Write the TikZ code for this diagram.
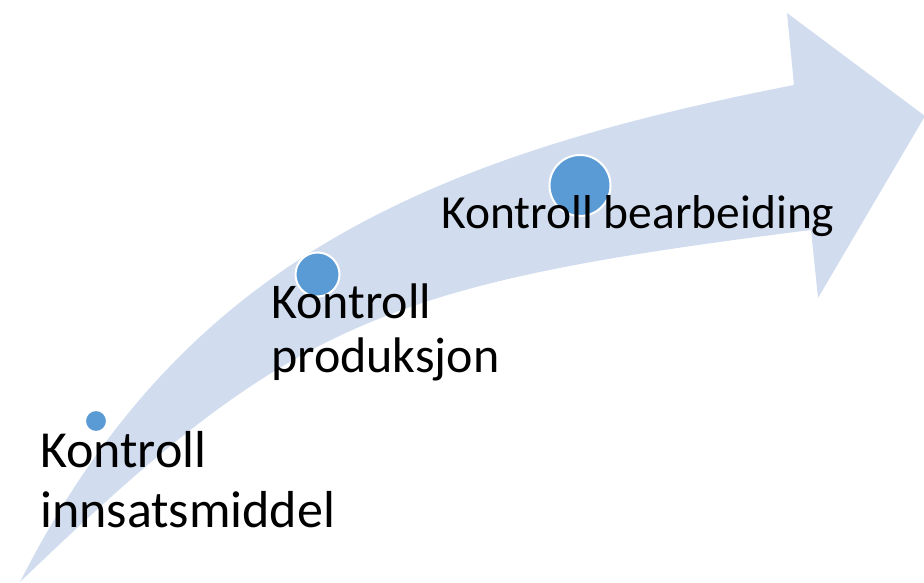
\documentclass[tikz,border=0pt]{standalone}
\usepackage{fontspec}
\setmainfont{Carlito}
\definecolor{arrowfill}{RGB}{209,221,239}
\definecolor{dotfill}{RGB}{91,155,213}
\tikzset{
  dot/.style={circle, fill=dotfill, draw=white, line width=2pt, inner sep=0pt},
  lbl/.style={anchor=base west, align=left, inner sep=0pt, text=black}
}
\begin{document}
\begin{tikzpicture}[x=1pt,y=-1pt]
\useasboundingbox (0,0) rectangle (924,583);
\fill[arrowfill] (20,582) .. controls (180,266) and (420,158) .. (794,85)
  -- (787,13) -- (925,116) -- (818,298) -- (811,230)
  .. controls (380,284) and (290,322) .. (20,582) -- cycle;
\node[dot, minimum size=22pt] (d1) at (96,421) {};
\node[dot, minimum size=44pt] (d2) at (317.5,274.5) {};
\node[dot, minimum size=61pt] (d3) at (580,185.5) {};
\node[lbl, font=\fontsize{52}{60}\selectfont] (t1) at (40,527) {Kontroll\\innsatsmiddel};
\node[lbl, font=\fontsize{50}{54}\selectfont] (t2) at (271,372) {Kontroll\\produksjon};
\node[lbl, font=\fontsize{47.5}{55}\selectfont] (t3) at (441,228) {Kontroll bearbeiding};
\end{tikzpicture}
\end{document}
